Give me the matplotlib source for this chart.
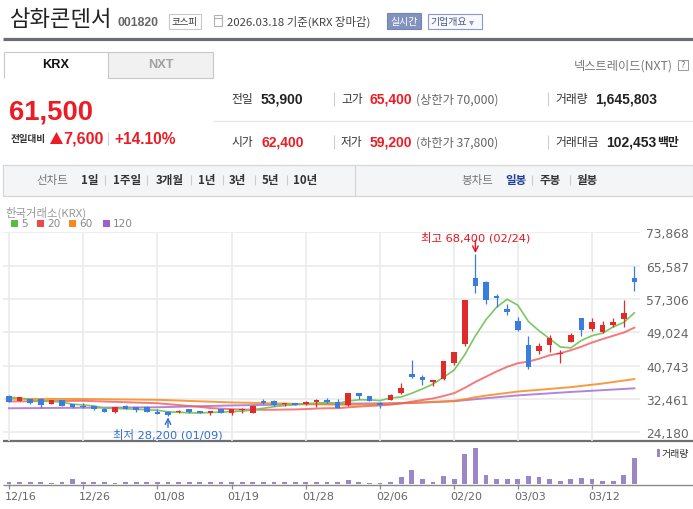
import numpy as np
import pandas as pd
import matplotlib
matplotlib.use('Agg')
import matplotlib.pyplot as plt
from matplotlib.patches import Rectangle, Polygon
from matplotlib.transforms import ScaledTranslation, blended_transform_factory

# ---------------- data ----------------
dates = ['12/16', '12/17', '12/18', '12/19', '12/22', '12/23', '12/24', '12/26', '12/29', '12/30',
         '01/02', '01/05', '01/06', '01/07', '01/08', '01/09', '01/12', '01/13', '01/14', '01/15',
         '01/16', '01/19', '01/20', '01/21', '01/22', '01/23', '01/26', '01/27', '01/28', '01/29',
         '01/30', '02/02', '02/03', '02/04', '02/05', '02/06', '02/09', '02/10', '02/11', '02/12',
         '02/13', '02/19', '02/20', '02/23', '02/24', '02/25', '02/26', '02/27', '03/03', '03/04',
         '03/05', '03/06', '03/09', '03/10', '03/11', '03/12', '03/13', '03/16', '03/17', '03/18']
opens = [33300, 32050, 32450, 32450, 31300, 32100, 31100, 30800, 30600, 30050,
         29150, 30700, 30400, 30550, 29150, 29300, 29150, 29950, 29450, 28900,
         29950, 28900, 29650, 29000, 31950, 31950, 31200, 31450, 31200, 31800,
         32200, 31650, 30950, 33950, 33200, 31400, 32300, 33950, 38650, 38000,
         36750, 37400, 41400, 46100, 62500, 61500, 58050, 54800, 51850, 45850,
         44450, 45950, 43550, 46700, 52550, 49850, 49150, 50850, 52350, 62400]
highs = [33400, 33000, 32500, 32800, 32200, 32150, 31300, 31350, 30700, 30100,
         30550, 31000, 30450, 30800, 29950, 29350, 29700, 30000, 29500, 29500,
         30050, 30000, 30100, 31000, 32400, 32200, 31500, 31500, 32000, 32450,
         32600, 32450, 34000, 34000, 33250, 31800, 33600, 36450, 42150, 38400,
         37250, 41900, 44150, 57050, 68400, 61700, 58550, 56050, 52750, 48050,
         46350, 48350, 44700, 48850, 52600, 52500, 51850, 52500, 57050, 65400]
lows = [31700, 31900, 31200, 30300, 31200, 30800, 30300, 30200, 29600, 29250,
        28900, 30000, 29200, 29150, 28650, 28200, 28900, 28900, 28950, 28600,
        28950, 28500, 28900, 28950, 31150, 30700, 30700, 30950, 30950, 30550,
        31450, 30250, 30700, 32450, 31900, 30150, 32250, 33800, 37600, 36000,
        35750, 37250, 40900, 45700, 58700, 56100, 55250, 53400, 49400, 39900,
        43650, 44200, 41400, 46550, 48200, 49400, 48950, 50250, 50250, 59200]
closes = [31800, 32850, 31500, 31050, 32100, 30800, 30450, 30400, 29950, 29300,
          30400, 30050, 29800, 29300, 28700, 28550, 29400, 29150, 29000, 29450,
          29000, 29950, 29800, 30600, 31400, 30950, 31450, 30950, 31800, 31950,
          31800, 30300, 33950, 33200, 31950, 30950, 33450, 35200, 37900, 37250,
          37000, 41900, 44150, 57050, 60600, 57100, 57450, 54000, 49650, 40350,
          45600, 47600, 43800, 48350, 49650, 51500, 50750, 51600, 53900, 61500]
volumes = [100000, 100000, 100000, 100000, 30000, 100000, 320000, 100000, 100000, 100000,
           30000, 100000, 100000, 100000, 100000, 100000, 100000, 100000, 100000, 100000,
           100000, 100000, 100000, 140000, 140000, 100000, 100000, 100000, 100000, 140000,
           140000, 140000, 250000, 140000, 75000, 75000, 140000, 440000, 890000, 320000,
           140000, 510000, 320000, 1900000, 2280000, 570000, 320000, 320000, 320000, 510000,
           440000, 320000, 190000, 320000, 380000, 320000, 190000, 190000, 570000, 1645803]

ma5_head = [32900, 32700, 32300, 31950]
ma20_head_idx = [0, 7, 14, 18]
ma20_head_val = [31850, 32000, 31400, 30500]
ma60_idx = [0, 7, 14, 21, 28, 32, 35, 40, 42, 43, 44, 45, 48, 53, 56, 59]
ma60_val = [32500, 32450, 32250, 31600, 31200, 31000, 31150, 31750, 32000, 32400, 32900, 33300,
            34300, 35400, 36300, 37400]
ma120_idx = [0, 14, 21, 28, 32, 38, 42, 45, 48, 53, 59]
ma120_val = [30150, 30400, 30850, 31150, 31300, 31450, 31900, 32650, 33350, 34200, 35100]

y_ticks = [24180, 32461, 40743, 49024, 57306, 65587, 73868]
x_tick_labels = ['12/16', '12/26', '01/08', '01/19', '01/28', '02/06', '02/20', '03/03', '03/12']

# ---------------- styles ----------------
W, H = 693, 510
KR = ['Noto Sans CJK KR', 'DejaVu Sans']
NUM = ['Liberation Sans', 'Noto Sans CJK KR', 'DejaVu Sans']
MIX = ['DejaVu Sans', 'Noto Sans CJK KR']
RED = '#ed1c24'
UPC = '#e02b2b'
DNC = '#3a7ddf'
plt.rcParams['font.family'] = ['DejaVu Sans', 'Noto Sans CJK KR']

fig = plt.figure(figsize=(W / 100, H / 100), dpi=100)
fig.patch.set_facecolor('white')
bg = fig.add_axes([0, 0, 1, 1])
bg.set_xlim(0, W)
bg.set_ylim(H, 0)
bg.axis('off')


def t(x, y, s, size, color='#333', family=KR, weight='normal', ha='left', va='center'):
    bg.text(x, y, s, fontsize=size, color=color, family=family, weight=weight, ha=ha, va=va)


def rect(x0, y0, x1, y1, fc='none', ec='none', lw=0.8):
    bg.add_patch(Rectangle((x0, y0), x1 - x0, y1 - y0, facecolor=fc, edgecolor=ec, linewidth=lw))


def line(x0, y0, x1, y1, color='#ccc', lw=0.8):
    bg.plot([x0, x1], [y0, y1], color=color, lw=lw, solid_capstyle='butt')


# ---------------- header ----------------
t(10, 20, '삼화콘덴서', 16.0, '#222')
t(118, 23, '001820', 8.8, '#666', NUM, 'bold')
rect(168.5, 14.5, 200.5, 29.5, fc='white', ec='#c8c8c8')
t(184.5, 22, '코스피', 6.8, '#333', ha='center')
rect(214, 16, 222, 27, ec='#b0b0b0', lw=0.8)
line(214, 19, 222, 19, '#b0b0b0', 0.8)
t(227, 21.5, '2026.03.18 기준(KRX 장마감)', 8.2, '#444')
rect(387, 14, 421, 29.5, fc='#8393bf', ec='#7584b2')
t(404, 22, '실시간', 7.2, 'white', ha='center')
rect(427.5, 14.5, 481.5, 29.5, fc='#f8f9fc', ec='#8a9ac4')
t(430, 22, '기업개요', 7.2, '#4a5a8a')
t(469, 22, '▾', 7.2, '#8a9ac4', family=['DejaVu Sans'])
line(3, 39.5, 693, 39.5, '#6a6d74', 2.3)

# tabs
line(3.5, 79, 3.5, 52.5, '#c8c8c8', 0.8)
line(3.5, 52.5, 108, 52.5, '#c8c8c8', 0.8)
rect(108, 52.5, 213, 79, fc='#f1f1f1', ec='#c8c8c8')
t(56, 65.5, 'KRX', 9.2, '#111', NUM, 'bold', ha='center')
t(160.5, 65.5, 'NXT', 9.2, '#a0a0a0', NUM, 'bold', ha='center')
t(673, 66, '넥스트레이드(NXT)', 8.8, '#777', ha='right')
rect(677.5, 61, 687.5, 71, fc='white', ec='#999', lw=0.7)
t(682.5, 66, '?', 6, '#777', family=['DejaVu Sans'], ha='center')

# current price block
t(9, 112, '61,500', 19.8, RED, NUM, 'bold')
t(11, 139, '전일대비', 6.9, '#333', weight='bold')
bg.add_patch(Polygon([(50, 145), (63, 145), (56.5, 133)], closed=True, facecolor=RED, edgecolor='none'))
t(63.5, 139.5, '7,600', 11.6, RED, NUM, 'bold')
line(108, 133, 108, 146, '#d0d0d0', 0.8)
t(114, 139.5, '+14.10%', 11.2, RED, NUM, 'bold')

# quote table
line(213, 122, 693, 122, '#e6e6e6', 0.9)
for yy in (100, 143):
    line(334, yy - 7, 334, yy + 7, '#cfcfcf', 0.8)
    line(548, yy - 7, 548, yy + 7, '#cfcfcf', 0.8)
t(231, 100, '전일', 8.5, '#333')
t(261, 100, '53,900', 10, '#222', NUM, 'bold')
t(341, 100, '고가', 8.5, '#333')
t(370, 100, '65,400', 10, RED, NUM, 'bold')
t(416, 100, '(상한가 70,000)', 8.8, '#666')
t(555, 100, '거래량', 8.5, '#333')
t(595, 100, '1,645,803', 10, '#222', NUM, 'bold')
t(231, 143, '시가', 8.5, '#333')
t(261, 143, '62,400', 10, RED, NUM, 'bold')
t(341, 143, '저가', 8.5, '#333')
t(370, 143, '59,200', 10, RED, NUM, 'bold')
t(416, 143, '(하한가 37,800)', 8.8, '#666')
t(555, 143, '거래대금', 8.5, '#333')
t(606, 143, '102,453', 10, '#222', NUM, 'bold')
t(657, 143, '백만', 8.5, '#222', weight='bold')

# toolbar
rect(3, 165.5, 693, 197, fc='#f4f5f7', ec='#d6d6d6', lw=0.9)
line(355, 165.5, 355, 197, '#d6d6d6', 0.9)
t(36, 181, '선차트', 8.3, '#777')
for xx, s in [(81, '1일'), (113, '1주일'), (156, '3개월'), (198, '1년'), (229, '3년'), (262, '5년'), (293, '10년')]:
    t(xx, 181, s, 8.3, '#333', weight='bold')
for xx in (105, 147, 191, 223, 255, 287):
    line(xx, 176, xx, 186, '#cccccc', 0.8)
t(461, 181, '봉차트', 8.3, '#777')
t(505, 181, '일봉', 8.3, '#1f3f99', weight='bold')
t(540, 181, '주봉', 8.3, '#333', weight='bold')
t(577, 181, '월봉', 8.3, '#333', weight='bold')
for xx in (532, 570):
    line(xx, 176, xx, 186, '#cccccc', 0.8)

# chart header + MA legend
t(5, 213, '한국거래소(KRX)', 8.2, '#999')
for xx, c, s in [(11, '#5bbb45', '5'), (37, '#ea4a4c', '20'), (69, '#f7891f', '60'), (103, '#9d60cc', '120')]:
    rect(xx, 220.5, xx + 7, 227.5, fc=c)
    t(xx + 10, 224.5, s, 7.6, '#888', family=['DejaVu Sans'])

# ---------------- price panel ----------------
n = len(closes)
idx = np.arange(n)
tick_idx = [dates.index(d) for d in x_tick_labels]

ax = fig.add_axes([3 / W, 1 - 442 / H, 637 / W, (442 - 233.3) / H])
ax.set_xlim(-0.566, 59.53)
ax.set_ylim(22017, 73868)
ax.patch.set_alpha(0)
for s in ax.spines.values():
    s.set_visible(False)
ax.set_yticks(y_ticks)
ax.set_yticklabels([f'{v:,}' for v in y_ticks])
ax.yaxis.tick_right()
ax.tick_params(axis='y', length=0, pad=4.3, labelsize=8.8, labelcolor='#666')
ax.set_xticks(tick_idx)
ax.tick_params(axis='x', length=0, labelbottom=False)
ax.grid(True, color='#ebebeb', lw=1.2)
ax.set_axisbelow(True)

cl = pd.Series(closes, dtype=float)
ma5 = cl.rolling(5).mean()
ma5.iloc[:4] = ma5_head
ma20 = cl.rolling(20).mean()
ma20_x = list(ma20_head_idx) + list(idx[19:])
ma20_y = list(ma20_head_val) + list(ma20.iloc[19:])

ax.plot(ma120_idx, ma120_val, color='#a66fd6', lw=1.4, alpha=0.85, zorder=2)
ax.plot(ma60_idx, ma60_val, color='#f7891f', lw=1.4, alpha=0.85, zorder=2)
ax.plot(ma20_x, ma20_y, color='#f05a5a', lw=1.4, alpha=0.8, zorder=2)
ax.plot(idx, ma5, color='#72c55a', lw=1.2, alpha=0.95, zorder=2)

o = np.array(opens, float)
c = np.array(closes, float)
hi = np.array(highs, float)
lo = np.array(lows, float)
cols = [UPC if cc >= oo else DNC for oo, cc in zip(o, c)]
ax.vlines(idx, lo, hi, colors=cols, lw=0.9, zorder=3)
body_b = np.minimum(o, c)
body_h = np.maximum(np.abs(c - o), 320)
ax.bar(idx, body_h, bottom=body_b, width=0.54, color=cols, zorder=4)

# high / low annotations
i_hi = int(np.argmax(hi))
i_lo = int(np.argmin(lo))
ax.text(i_hi, 71300, f'최고 {int(hi[i_hi]):,} ({dates[i_hi]})', color='#e8141d', fontsize=8.2,
        family=MIX, ha='center', va='bottom', zorder=5, clip_on=False)
ax.annotate('', xy=(i_hi, hi[i_hi] + 300), xytext=(i_hi, 71900),
            arrowprops=dict(arrowstyle='->', color='#e8141d', lw=1.0, shrinkA=0, shrinkB=0), zorder=5)
ax.annotate('', xy=(i_lo, lo[i_lo] - 300), xytext=(i_lo, 25400),
            arrowprops=dict(arrowstyle='->', color='#2f6fd6', lw=1.0, shrinkA=0, shrinkB=0), zorder=5)
ax.text(i_lo, 23700, f'최저 {int(lo[i_lo]):,} ({dates[i_lo]})', color='#2f6fd6', fontsize=8.2,
        family=MIX, ha='center', va='center', zorder=5, clip_on=False)

# separators
line(3, 442, 693, 442, '#6f6f6f', 1.6)
line(3, 485.6, 693, 485.6, '#8a8a8a', 1.0)

# ---------------- volume panel ----------------
axv = fig.add_axes([3 / W, 1 - 484.9 / H, 637 / W, 40.9 / H])
axv.set_xlim(-0.566, 59.53)
axv.set_ylim(0, 2.6e6)
axv.patch.set_alpha(0)
for s in axv.spines.values():
    s.set_visible(False)
axv.bar(idx, volumes, width=0.44, color='#9b87c7', zorder=2)
axv.set_yticks([])
axv.set_xticks(tick_idx)
axv.set_xticklabels([])
axv.tick_params(axis='x', length=3.8, width=0.9, color='#888', direction='out')
tr = blended_transform_factory(axv.transData, axv.transAxes) + ScaledTranslation(-0.04, 0, fig.dpi_scale_trans)
for i, lab in zip(tick_idx, x_tick_labels):
    axv.text(i, -0.305, lab, transform=tr, fontsize=8.0, color='#666', ha='left', va='center',
             family=['DejaVu Sans'])

rect(656.5, 450, 659.5, 457.5, fc='#9b87c7')
t(662, 454, '거래량', 7.2, '#333')

fig.savefig('out.png', dpi=100, facecolor='white')
